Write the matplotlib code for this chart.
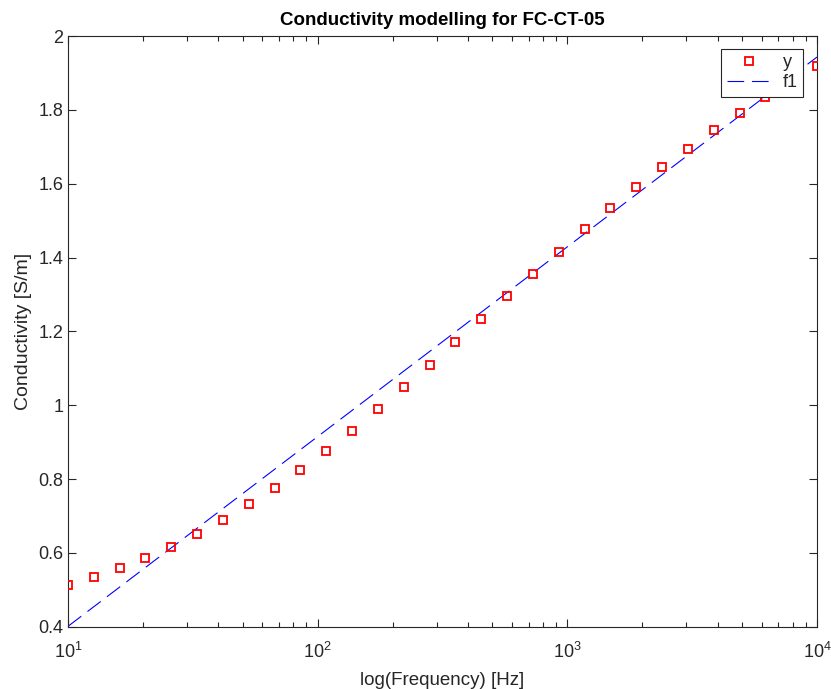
import numpy as np
import matplotlib
matplotlib.use("Agg")
import matplotlib.pyplot as plt
from matplotlib.ticker import LogLocator, LogFormatterSciNotation, FixedLocator, NullFormatter

plt.rcParams['font.family'] = ['Liberation Sans', 'DejaVu Sans']
plt.rcParams['mathtext.fontset'] = 'custom'
plt.rcParams['mathtext.rm'] = 'Liberation Sans'
plt.rcParams['mathtext.it'] = 'Liberation Sans:italic'
plt.rcParams['mathtext.bf'] = 'Liberation Sans:bold'

# Measured conductivity at 30 log-spaced frequencies (10 Hz .. 10 kHz)
frequency = np.logspace(1, 4, 30)
conductivity = [0.513, 0.534, 0.558, 0.585, 0.617, 0.651, 0.690, 0.731, 0.777, 0.825,
                0.876, 0.931, 0.989, 1.048, 1.110, 1.171, 1.233, 1.295, 1.356, 1.416,
                1.477, 1.534, 1.591, 1.644, 1.695, 1.745, 1.791, 1.836, 1.878, 1.919]

# Fitted model f1 (straight line in log-frequency), endpoints of the fitted range
fit_frequency = [10, 1e4]
fit_conductivity = [0.401, 1.943]

y_ticks = [0.4, 0.6, 0.8, 1.0, 1.2, 1.4, 1.6, 1.8, 2.0]
y_tick_labels = ['0.4', '0.6', '0.8', '1', '1.2', '1.4', '1.6', '1.8', '2']

W, H = 831, 689
fig = plt.figure(figsize=(W / 100, H / 100), dpi=100)
left, right, top, bottom = 68, 817, 36, 626.7
ax = fig.add_axes([left / W, 1 - bottom / H, (right - left) / W, (bottom - top) / H])

axis_color = (0.15, 0.15, 0.15)

ax.semilogx(frequency, conductivity, linestyle='none', marker='s', markersize=5.5,
            markerfacecolor='none', markeredgecolor='red', markeredgewidth=1.3,
            label='y', zorder=3)
ax.semilogx(fit_frequency, fit_conductivity, color='blue', linewidth=0.8,
            dashes=(15, 7), label='f1', zorder=2)

ax.set_xlim(10, 1e4)
ax.set_ylim(0.4, 2.0)
ax.yaxis.set_major_locator(FixedLocator(y_ticks))
ax.set_yticklabels(y_tick_labels)
ax.xaxis.set_major_locator(LogLocator(base=10, numticks=10))
ax.xaxis.set_major_formatter(LogFormatterSciNotation())
ax.xaxis.set_minor_locator(LogLocator(base=10, subs=np.arange(2, 10), numticks=20))
ax.xaxis.set_minor_formatter(NullFormatter())

ax.tick_params(which='both', direction='in', top=True, right=True,
               color=axis_color, labelcolor=axis_color, labelsize=13)
ax.tick_params(which='major', length=6, width=0.8)
ax.tick_params(which='minor', length=3.5, width=0.8)
ax.tick_params(axis='x', pad=11)
for s in ax.spines.values():
    s.set_color(axis_color)
    s.set_linewidth(0.8)

ax.set_title('Conductivity modelling for FC-CT-05', fontsize=13.5, fontweight='bold',
             color='black', pad=8)
ax.set_xlabel('log(Frequency) [Hz]', fontsize=13.5, color=axis_color, labelpad=7)
ax.set_ylabel('Conductivity [S/m]', fontsize=14, color=axis_color, labelpad=4)

leg = ax.legend(loc='upper right', bbox_to_anchor=(803 / W, 1 - 49 / H),
                bbox_transform=fig.transFigure, borderaxespad=0, fontsize=13,
                fancybox=False, framealpha=1, edgecolor=axis_color,
                handlelength=2.5, handletextpad=0.6, labelspacing=0.15,
                borderpad=0.3)
leg.get_frame().set_linewidth(0.8)
leg.set_zorder(10)
for t in leg.get_texts():
    t.set_color(axis_color)

fig.savefig('out.png', dpi=100, facecolor='white')
